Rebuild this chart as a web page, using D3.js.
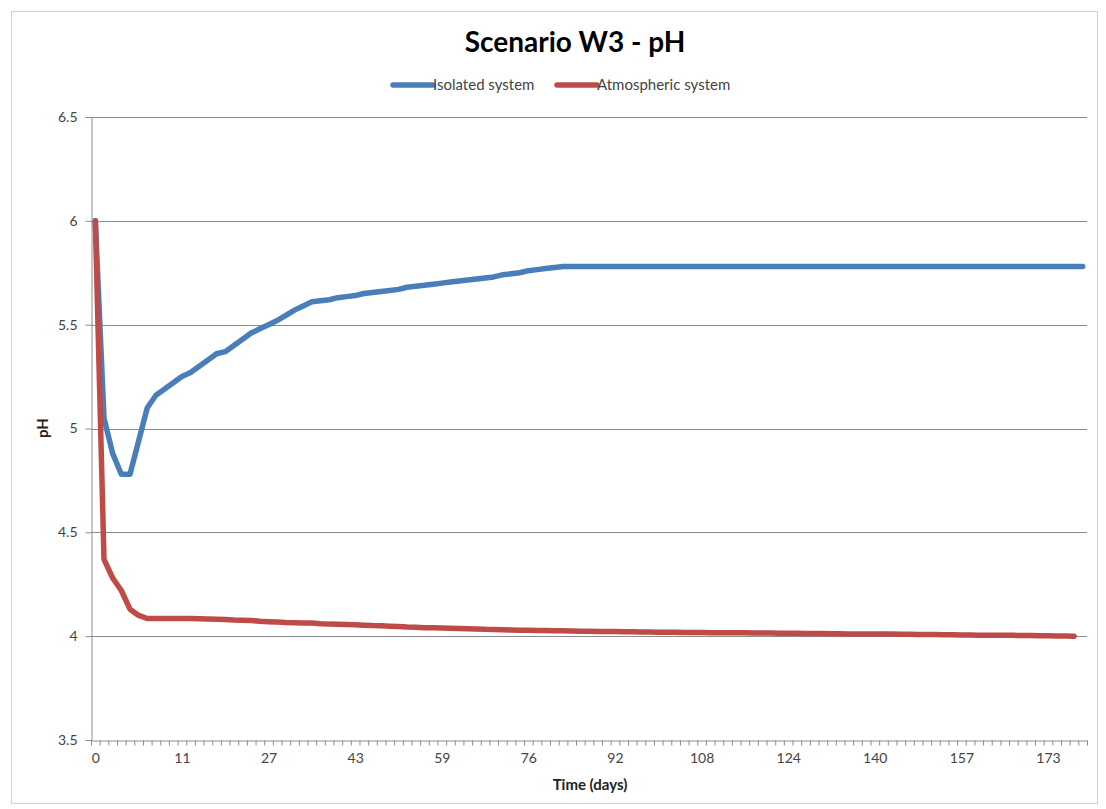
<!DOCTYPE html>
<html>
<head>
<meta charset="utf-8">
<script src="https://cdn.jsdelivr.net/npm/d3@7"></script>
<style>
  body { margin: 0; background: #fff; }
  svg text { font-family: Lato, "Open Sans", sans-serif; }
  .tick text { fill: #444; font-size: 14px; }
</style>
</head>
<body>
<svg id="chart" width="1106" height="809"></svg>
<script>
// category labels shown every 10 points (time in days)
var tickIdx = [0, 10, 20, 30, 40, 50, 60, 70, 80, 90, 100, 110];
var tickLabels = ["0", "11", "27", "43", "59", "76", "92", "108", "124", "140", "157", "173"];
var yTicks = [3.5, 4, 4.5, 5, 5.5, 6, 6.5];

var isolated = [
  6.00, 5.05, 4.88, 4.78, 4.78, 4.94, 5.10, 5.16, 5.19, 5.22,
  5.25, 5.27, 5.30, 5.33, 5.36, 5.37, 5.40, 5.43, 5.46, 5.48,
  5.50, 5.52, 5.545, 5.57, 5.59, 5.61, 5.615, 5.62, 5.63, 5.635,
  5.64, 5.65, 5.655, 5.66, 5.665, 5.67, 5.68, 5.685, 5.69, 5.695,
  5.70, 5.705, 5.71, 5.715, 5.72, 5.725, 5.73, 5.74, 5.745, 5.75,
  5.76, 5.765, 5.77, 5.775, 5.78, 5.78, 5.78, 5.78, 5.78, 5.78,
  5.78, 5.78, 5.78, 5.78, 5.78, 5.78, 5.78, 5.78, 5.78, 5.78,
  5.78, 5.78, 5.78, 5.78, 5.78, 5.78, 5.78, 5.78, 5.78, 5.78,
  5.78, 5.78, 5.78, 5.78, 5.78, 5.78, 5.78, 5.78, 5.78, 5.78,
  5.78, 5.78, 5.78, 5.78, 5.78, 5.78, 5.78, 5.78, 5.78, 5.78,
  5.78, 5.78, 5.78, 5.78, 5.78, 5.78, 5.78, 5.78, 5.78, 5.78,
  5.78, 5.78, 5.78, 5.78, 5.78
];
var atmospheric = [
  6.00, 4.37, 4.28, 4.22, 4.13, 4.10, 4.085, 4.085, 4.085, 4.085,
  4.085, 4.085, 4.084, 4.083, 4.082, 4.08, 4.078, 4.077, 4.075, 4.072,
  4.07, 4.068, 4.066, 4.065, 4.064, 4.063, 4.06, 4.058, 4.057, 4.056,
  4.055, 4.053, 4.051, 4.05, 4.048, 4.046, 4.044, 4.043, 4.041, 4.04,
  4.039, 4.038, 4.037, 4.036, 4.035, 4.033, 4.032, 4.031, 4.03, 4.029,
  4.028, 4.027, 4.027, 4.026, 4.026, 4.025, 4.024, 4.024, 4.023, 4.022,
  4.022, 4.021, 4.021, 4.02, 4.02, 4.019, 4.019, 4.019, 4.018, 4.018,
  4.018, 4.017, 4.017, 4.016, 4.016, 4.016, 4.015, 4.015, 4.015, 4.014,
  4.014, 4.014, 4.013, 4.013, 4.013, 4.012, 4.012, 4.011, 4.011, 4.011,
  4.01, 4.01, 4.01, 4.009, 4.009, 4.008, 4.008, 4.008, 4.007, 4.007,
  4.006, 4.006, 4.005, 4.005, 4.005, 4.004, 4.004, 4.003, 4.003, 4.002,
  4.002, 4.001, 4.001, 4.0
];
var series = [
  {name: "Isolated system", values: isolated, color: "#4a7ebb"},
  {name: "Atmospheric system", values: atmospheric, color: "#be4b48"}
];

var svg = d3.select("#chart");
var plotLeft = 91, plotRight = 1087, plotTop = 117, plotBottom = 740;
var N = isolated.length;

// outer frame
svg.append("rect")
  .attr("x", 11.5).attr("y", 11.5)
  .attr("width", 1086).attr("height", 792)
  .attr("fill", "#fff").attr("stroke", "#d0d0d0");

var xEdge = d3.scaleLinear().domain([0, N]).range([plotLeft, plotRight]);
var y = d3.scaleLinear().domain([3.5, 6.5]).range([plotBottom, plotTop]);

// gridlines
svg.append("g").selectAll("line")
  .data(yTicks.slice(1))
  .enter().append("line")
  .attr("x1", plotLeft).attr("x2", plotRight)
  .attr("y1", function(d){return Math.round(y(d)) + 0.5;})
  .attr("y2", function(d){return Math.round(y(d)) + 0.5;})
  .attr("stroke", "#8c8c8c").attr("stroke-width", 1);

// y axis
var yAxis = svg.append("g")
  .attr("transform", "translate(" + (plotLeft + 0.5) + ",0)")
  .call(d3.axisLeft(y).tickValues(yTicks).tickSize(6).tickPadding(8).tickFormat(String));
yAxis.selectAll("line, path").attr("stroke", "#8c8c8c");

// x axis tick marks between categories
var xAxis = svg.append("g")
  .attr("transform", "translate(0," + (plotBottom + 0.5) + ")")
  .call(d3.axisBottom(xEdge).tickValues(d3.range(N + 1)).tickSize(5).tickSizeOuter(0).tickFormat(""));
xAxis.selectAll("line, path").attr("stroke", "#8c8c8c");

// x labels centred on categories
var xLab = svg.append("g")
  .attr("transform", "translate(0," + (plotBottom + 0.5) + ")")
  .call(d3.axisBottom(xEdge)
    .tickValues(tickIdx.map(function(d){return d + 0.5;}))
    .tickSize(0).tickPadding(13)
    .tickFormat(function(d, i){return tickLabels[i];}));
xLab.select(".domain").remove();

// lines
var line = d3.line()
  .x(function(d, i){return xEdge(i + 0.5);})
  .y(function(d){return y(d);});
svg.append("g").selectAll("path")
  .data(series)
  .enter().append("path")
  .attr("d", function(d){return line(d.values);})
  .attr("fill", "none")
  .attr("stroke", function(d){return d.color;})
  .attr("stroke-width", 5.5)
  .attr("stroke-linejoin", "round")
  .attr("stroke-linecap", "round");

// titles
svg.append("text")
  .attr("x", 575).attr("y", 52)
  .attr("text-anchor", "middle")
  .attr("font-size", "28px").attr("font-weight", "bold")
  .attr("fill", "#000")
  .text("Scenario W3 - pH");

svg.append("text")
  .attr("x", 590).attr("y", 790)
  .attr("text-anchor", "middle")
  .attr("font-size", "15px").attr("font-weight", "bold")
  .attr("fill", "#222")
  .text("Time (days)");

svg.append("text")
  .attr("transform", "translate(48,428) rotate(-90)")
  .attr("text-anchor", "middle")
  .attr("font-size", "15px").attr("font-weight", "bold")
  .attr("fill", "#222")
  .text("pH");

// legend
var legendX = [393, 557];
var leg = svg.append("g").selectAll("g")
  .data(series)
  .enter().append("g")
  .attr("transform", function(d, i){return "translate(" + legendX[i] + ",85)";});
leg.append("line")
  .attr("x1", 0).attr("x2", 40)
  .attr("stroke", function(d){return d.color;})
  .attr("stroke-width", 5.5).attr("stroke-linecap", "round");
leg.append("text")
  .attr("x", 40).attr("dy", "0.35em")
  .attr("font-size", "15px")
  .attr("fill", "#444")
  .text(function(d){return d.name;});
</script>
</body>
</html>
